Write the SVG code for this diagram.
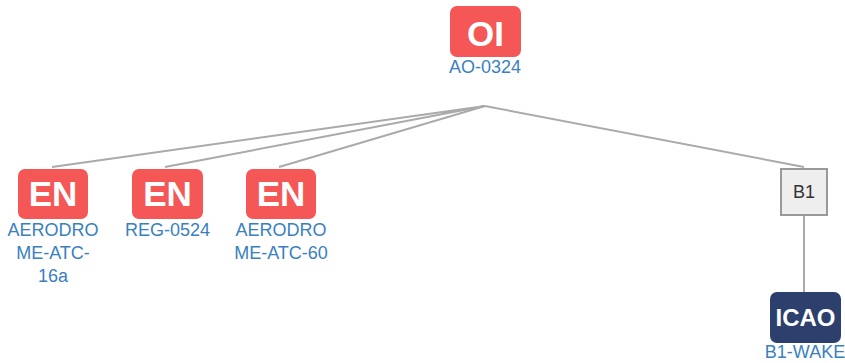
<svg xmlns="http://www.w3.org/2000/svg" width="845" height="363" viewBox="0 0 845 363">
  <style>
    .edge { stroke: #aaaaaa; stroke-width: 2; fill: none; }
    .badge-red { fill: #f55656; }
    .badge-navy { fill: #2d3f6d; }
    .badge-text { fill: #ffffff; font-family: "Liberation Sans", Arial, sans-serif; font-weight: bold; text-anchor: middle; }
    .label { fill: #3a7fc0; font-family: "Liberation Sans", Arial, sans-serif; font-size: 18px; text-anchor: middle; }
    .junction { fill: #eeeeee; stroke: #999999; stroke-width: 2; }
    .junction-text { fill: #333333; font-family: "Liberation Sans", Arial, sans-serif; font-size: 18px; text-anchor: middle; }
  </style>
  <rect width="845" height="363" fill="#ffffff"/>

  <g id="connectors">
    <polyline class="edge" points="52,167 485,106 165,167"/>
    <polyline class="edge" points="279,167 485,106 804,167"/>
    <line class="edge" x1="804" y1="215" x2="804" y2="293"/>
  </g>

  <g id="node-oi">
    <rect class="badge-red" x="450" y="6" width="71" height="51" rx="7"/>
    <text class="badge-text" x="485.5" y="46" font-size="35">OI</text>
    <text class="label" x="485" y="73">AO-0324</text>
  </g>

  <g id="node-en-1">
    <rect class="badge-red" x="18" y="169" width="70" height="50" rx="7"/>
    <text class="badge-text" x="53" y="206" font-size="35">EN</text>
    <text class="label" x="53" y="236">AERODRO</text>
    <text class="label" x="53" y="259">ME-ATC-</text>
    <text class="label" x="53" y="282">16a</text>
  </g>

  <g id="node-en-2">
    <rect class="badge-red" x="132" y="169" width="71" height="50" rx="7"/>
    <text class="badge-text" x="167.5" y="206" font-size="35">EN</text>
    <text class="label" x="167.5" y="236">REG-0524</text>
  </g>

  <g id="node-en-3">
    <rect class="badge-red" x="246" y="169" width="70" height="50" rx="7"/>
    <text class="badge-text" x="281" y="206" font-size="35">EN</text>
    <text class="label" x="281" y="236">AERODRO</text>
    <text class="label" x="281" y="259">ME-ATC-60</text>
  </g>

  <g id="node-b1">
    <rect class="junction" x="781" y="169" width="46" height="46"/>
    <text class="junction-text" x="804" y="198">B1</text>
  </g>

  <g id="node-icao">
    <rect class="badge-navy" x="770" y="292" width="71" height="51" rx="7"/>
    <text class="badge-text" x="805.5" y="326" font-size="24">ICAO</text>
    <text class="label" x="805" y="358">B1-WAKE</text>
  </g>
</svg>
